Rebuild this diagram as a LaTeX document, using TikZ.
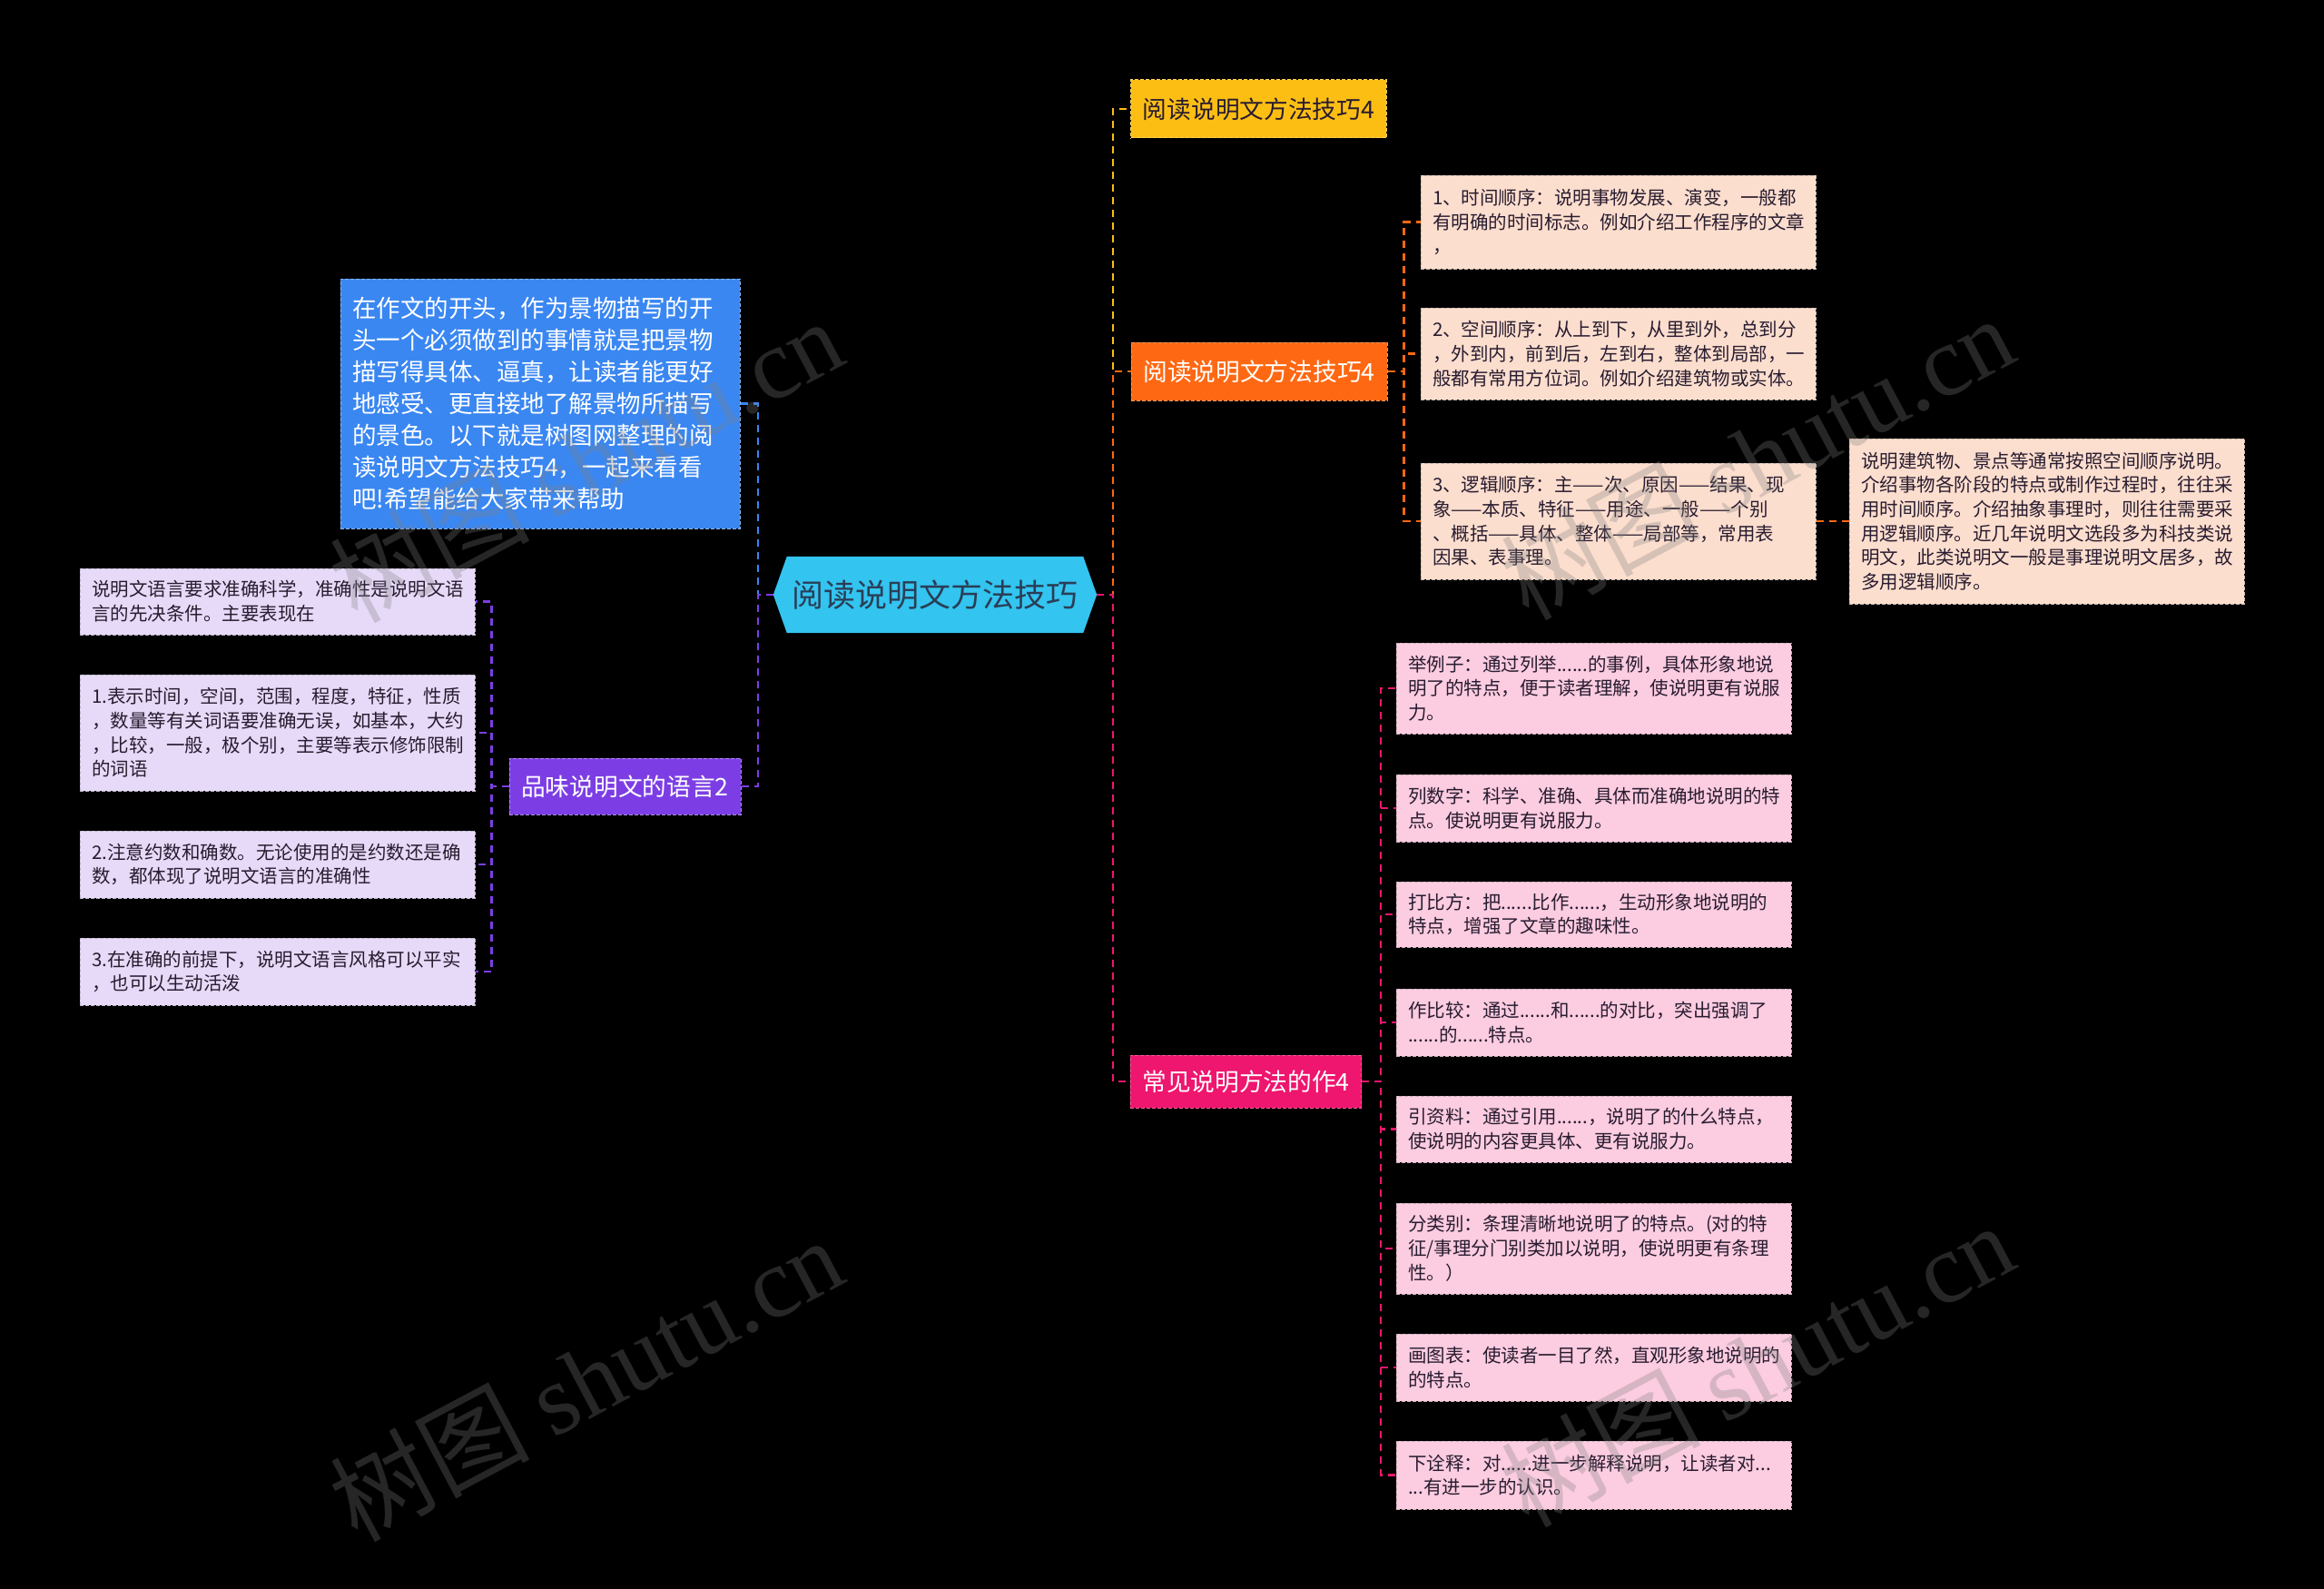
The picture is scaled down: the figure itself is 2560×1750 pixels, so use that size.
\documentclass[tikz,border=0pt]{standalone}
\usepackage{fontspec}
\setmainfont{Noto Sans CJK SC}
\newfontfamily\wmlatin{Liberation Serif}
\usetikzlibrary{backgrounds}
\definecolor{rootblue}{RGB}{51,196,240}
\definecolor{introblue}{RGB}{58,135,242}
\definecolor{langpurple}{RGB}{124,62,228}
\definecolor{leafpurple}{RGB}{230,218,248}
\definecolor{tipyellow}{RGB}{253,190,20}
\definecolor{tiporange}{RGB}{255,104,18}
\definecolor{orderpeach}{RGB}{252,222,206}
\definecolor{methodred}{RGB}{238,22,110}
\definecolor{methodpink}{RGB}{252,204,224}
\definecolor{inkdark}{RGB}{40,28,48}

\begin{document}
\begin{tikzpicture}[x=1pt,y=-1pt,
  box/.style={rectangle,inner xsep=13pt,inner ysep=0pt,align=left,line width=1pt,dash pattern=on 4pt off 2pt},
  small/.style={box,text width=409pt,minimum width=435pt,text=inkdark,font=\fontsize{20.5pt}{26.7pt}\selectfont},
  branch/.style={box,align=center,font=\fontsize{26.7pt}{32pt}\selectfont},
  link/.style={line width=2.2pt,dash pattern=on 8pt off 6pt},
  wmark/.style={rotate=28,text=gray,opacity=0.3,font=\fontsize{110pt}{110pt}\selectfont}]
  \useasboundingbox (0,0) rectangle (2560,1750);
  % 中心
  \node[minimum width=356pt,minimum height=84pt,inner sep=0pt,text=inkdark!80!rootblue,
        font=\fontsize{35pt}{40pt}\selectfont] (root) at (1030,655) {阅读说明文方法技巧};
  % 左侧
  \node[box,fill=introblue,draw=introblue!60!white,text=white,text width=414pt,minimum width=440pt,
        minimum height=275pt,font=\fontsize{26.5pt}{35pt}\selectfont] (intro) at (595,444.5)
    {在作文的开头，作为景物描写的开\\头一个必须做到的事情就是把景物\\描写得具体、逼真，让读者能更好\\地感受、更直接地了解景物所描写\\的景色。以下就是树图网整理的阅\\读说明文方法技巧4，一起来看看\\吧!希望能给大家带来帮助};
  \node[branch,fill=langpurple,draw=langpurple!60!white,text=white,minimum width=255pt,minimum height=62pt]
    (lang) at (688.5,866) {品味说明文的语言2};
  \node[small,fill=leafpurple,draw=leafpurple!60!gray,minimum height=73pt] (l1) at (305.5,662.5)
    {说明文语言要求准确科学，准确性是说明文语\\言的先决条件。主要表现在};
  \node[small,fill=leafpurple,draw=leafpurple!60!gray,minimum height=128pt] (l2) at (305.5,807)
    {1.表示时间，空间，范围，程度，特征，性质\\，数量等有关词语要准确无误，如基本，大约\\，比较，一般，极个别，主要等表示修饰限制\\的词语};
  \node[small,fill=leafpurple,draw=leafpurple!60!gray,minimum height=74pt] (l3) at (305.5,952)
    {2.注意约数和确数。无论使用的是约数还是确\\数，都体现了说明文语言的准确性};
  \node[small,fill=leafpurple,draw=leafpurple!60!gray,minimum height=74pt] (l4) at (305.5,1070)
    {3.在准确的前提下，说明文语言风格可以平实\\，也可以生动活泼};
  % 右侧
  \node[branch,fill=tipyellow,draw=tipyellow!70!white,text=inkdark,minimum width=281pt,minimum height=64pt]
    (tipA) at (1386.5,120) {阅读说明文方法技巧4};
  \node[branch,fill=tiporange,draw=tiporange!70!white,text=white,minimum width=282pt,minimum height=64pt]
    (tipB) at (1387,409) {阅读说明文方法技巧4};
  \node[branch,fill=methodred,draw=methodred!70!white,text=white,minimum width=253pt,minimum height=58pt]
    (meth) at (1372.5,1191) {常见说明方法的作4};
  \node[small,fill=orderpeach,draw=orderpeach!60!gray,minimum height=103pt] (ord1) at (1782.5,244.5)
    {1、时间顺序：说明事物发展、演变，一般都\\有明确的时间标志。例如介绍工作程序的文章\\，};
  \node[small,fill=orderpeach,draw=orderpeach!60!gray,minimum height=101pt] (ord2) at (1782.5,389.5)
    {2、空间顺序：从上到下，从里到外，总到分\\，外到内，前到后，左到右，整体到局部，一\\般都有常用方位词。例如介绍建筑物或实体。};
  \node[small,fill=orderpeach,draw=orderpeach!60!gray,minimum height=128pt] (ord3) at (1782.5,574)
    {3、逻辑顺序：主——次、原因——结果、现\\象——本质、特征——用途、一般——个别\\、概括——具体、整体——局部等，常用表\\因果、表事理。};
  \node[small,fill=orderpeach,draw=orderpeach!60!gray,minimum height=182pt] (ordnote) at (2254.5,574)
    {说明建筑物、景点等通常按照空间顺序说明。\\介绍事物各阶段的特点或制作过程时，往往采\\用时间顺序。介绍抽象事理时，则往往需要采\\用逻辑顺序。近几年说明文选段多为科技类说\\明文，此类说明文一般是事理说明文居多，故\\多用逻辑顺序。};
  \node[small,fill=methodpink,draw=methodpink!60!gray,minimum height=100pt] (m1) at (1755.5,758)
    {举例子：通过列举......的事例，具体形象地说\\明了的特点，便于读者理解，使说明更有说服\\力。};
  \node[small,fill=methodpink,draw=methodpink!60!gray,minimum height=74pt] (m2) at (1755.5,890)
    {列数字：科学、准确、具体而准确地说明的特\\点。使说明更有说服力。};
  \node[small,fill=methodpink,draw=methodpink!60!gray,minimum height=72pt] (m3) at (1755.5,1007)
    {打比方：把......比作......，生动形象地说明的\\特点，增强了文章的趣味性。};
  \node[small,fill=methodpink,draw=methodpink!60!gray,minimum height=74pt] (m4) at (1755.5,1126)
    {作比较：通过......和......的对比，突出强调了\\......的......特点。};
  \node[small,fill=methodpink,draw=methodpink!60!gray,minimum height=73pt] (m5) at (1755.5,1243.5)
    {引资料：通过引用......，说明了的什么特点，\\使说明的内容更具体、更有说服力。};
  \node[small,fill=methodpink,draw=methodpink!60!gray,minimum height=100pt] (m6) at (1755.5,1375)
    {分类别：条理清晰地说明了的特点。(对的特\\征/事理分门别类加以说明，使说明更有条理\\性。）};
  \node[small,fill=methodpink,draw=methodpink!60!gray,minimum height=74pt] (m7) at (1755.5,1506)
    {画图表：使读者一目了然，直观形象地说明的\\的特点。};
  \node[small,fill=methodpink,draw=methodpink!60!gray,minimum height=75pt] (m8) at (1755.5,1624.5)
    {下诠释：对......进一步解释说明，让读者对...\\...有进一步的认识。};
  % 底色与中心六边形
  \begin{scope}[on background layer]
    \fill[black] (0,0) rectangle (2560,1750);
    \fill[rootblue] (root.west) -- ([xshift=15pt]root.north west) -- ([xshift=-15pt]root.north east)
      -- (root.east) -- ([xshift=-15pt]root.south east) -- ([xshift=15pt]root.south west) -- cycle;
  \end{scope}
  % 连线
  \draw[link,introblue] (root.west) -- ++(-17,0) |- (intro.east);
  \draw[link,langpurple] (root.west) -- ++(-17,0) |- (lang.east);
  \foreach \n in {l1,l2,l3,l4}
    \draw[link,langpurple] (lang.west) -- ++(-19,0) |- (\n.east);
  \draw[link,tipyellow] (root.east) -- ++(18,0) |- (tipA.west);
  \draw[link,tiporange] (root.east) -- ++(18,0) |- (tipB.west);
  \draw[link,methodred] (root.east) -- ++(18,0) |- (meth.west);
  \foreach \n in {ord1,ord2,ord3}
    \draw[link,tiporange] (tipB.east) -- ++(18,0) |- (\n.west);
  \draw[link,tiporange] (ord3.east) -- (ordnote.west);
  \foreach \n in {m1,m2,m3,m4,m5,m6,m7,m8}
    \draw[link,methodred] (meth.east) -- ++(21,0) |- (\n.west);
  % 水印
  \foreach \wx/\wy [count=\i] in {645/506,645/1518,1935/503,1935/1502}
    \node[wmark] (wm\i) at (\wx,\wy) {树图 {\wmlatin shutu.cn}};
\end{tikzpicture}
\end{document}
